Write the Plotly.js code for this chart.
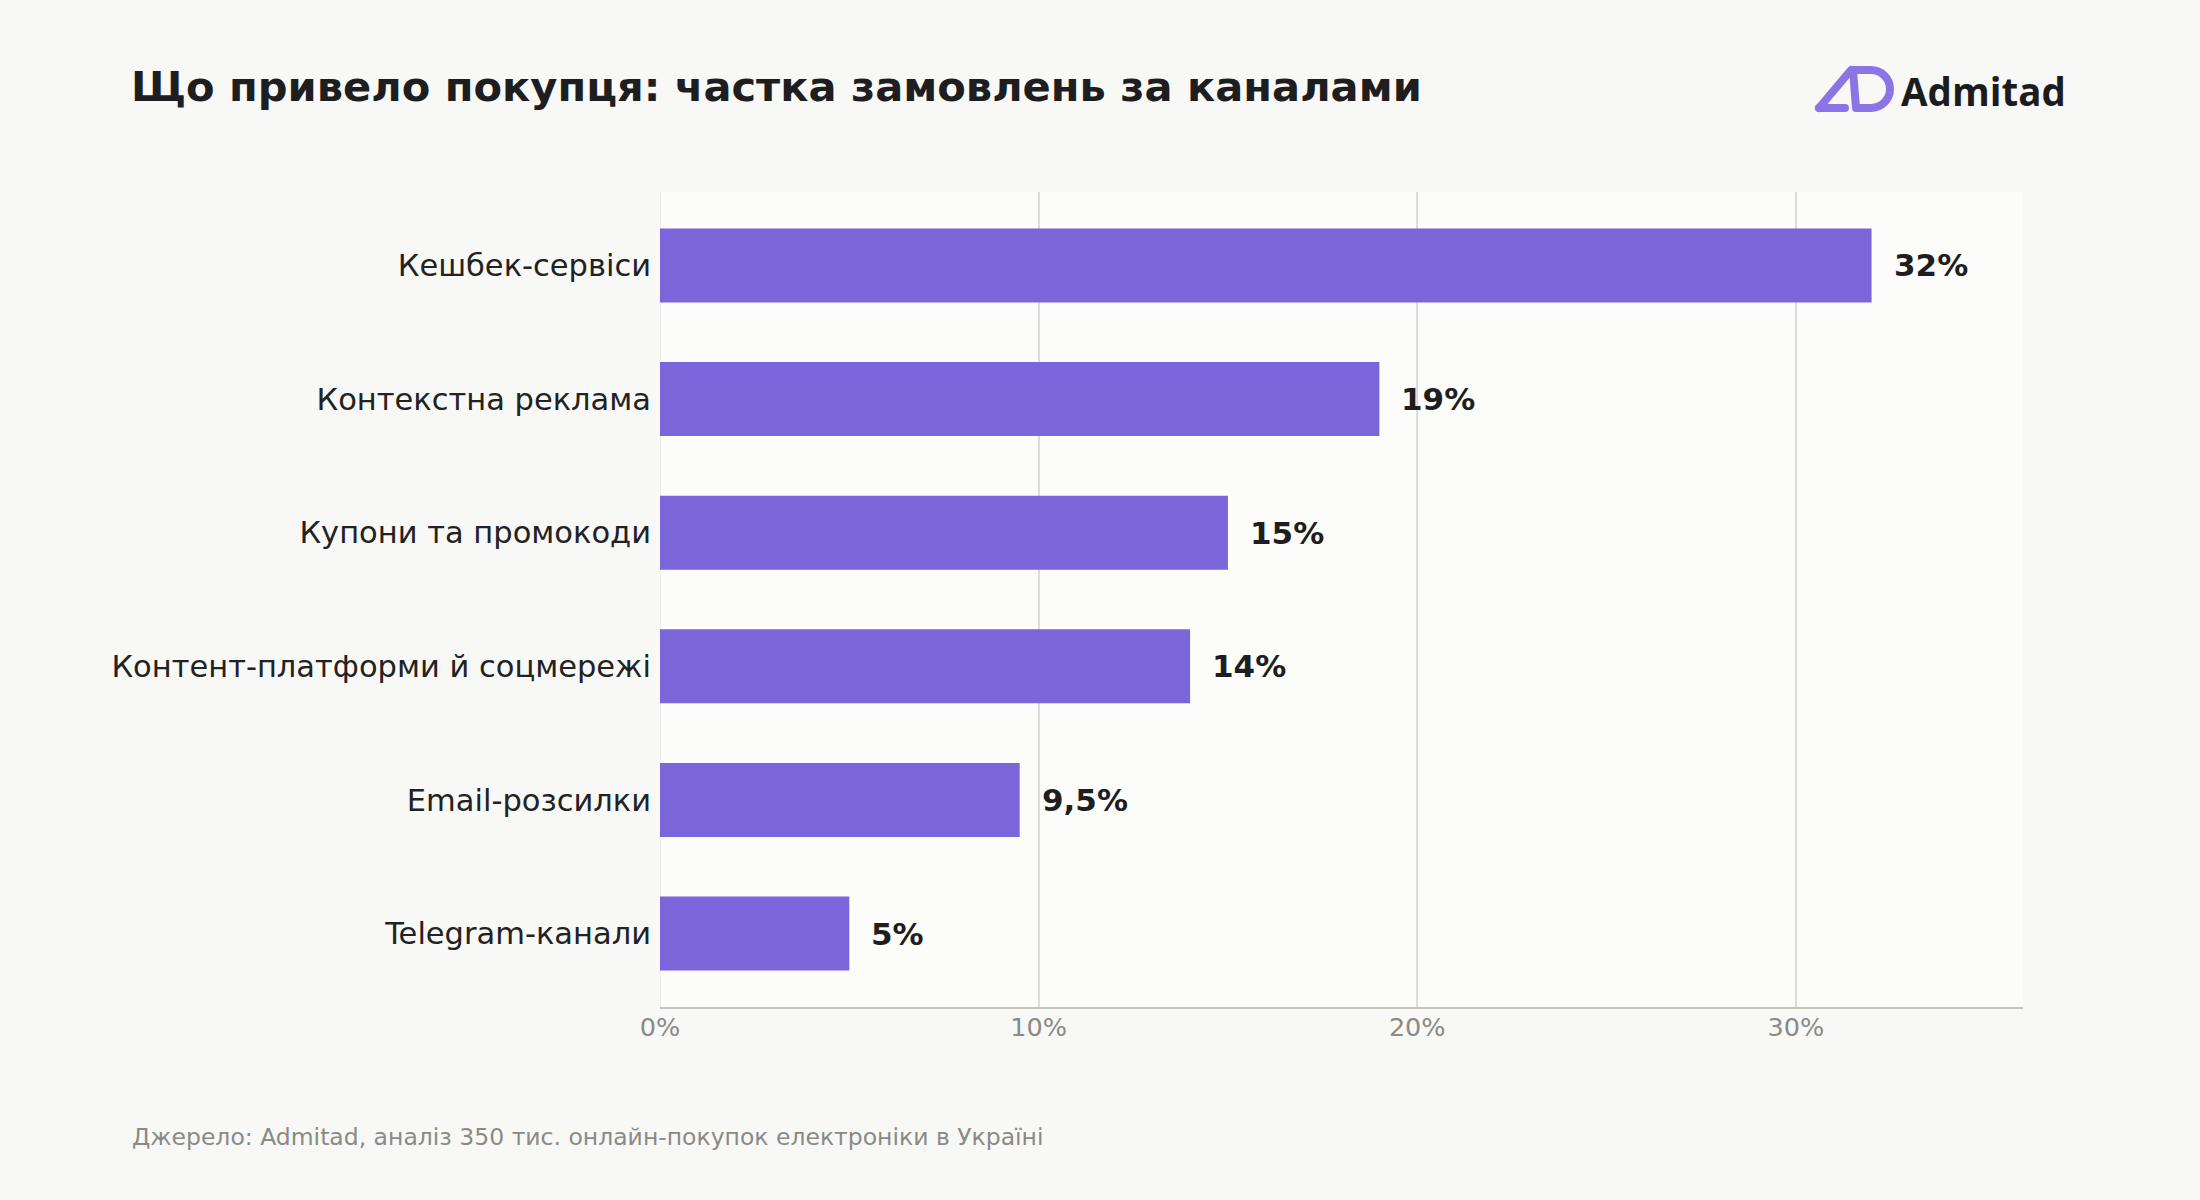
<!DOCTYPE html>
<html>
<head>
<meta charset="utf-8">
<script src="https://cdn.plot.ly/plotly-3.0.1.min.js"></script>
<style>
  body { margin: 0; background: #f8f8f6; }
  #wrap { position: relative; width: 2200px; height: 1200px; }
  #logo { position: absolute; left: 0; top: 0; pointer-events: none; }
</style>
</head>
<body>
<div id="wrap">
  <div id="chart"></div>
  <svg id="logo" width="2200" height="200">
    <g fill="none" stroke="#8b74e6" stroke-width="8" stroke-linecap="round" stroke-linejoin="round">
      <path d="M1819,108 L1851,70"/>
      <path d="M1819,108 L1845,108"/>
      <path d="M1853,70 L1856,108 L1871,108 A19,19 0 0 0 1871,70 Z"/>
    </g>
  </svg>
</div>
<script>
var channels = ['Кешбек-сервіси', 'Контекстна реклама', 'Купони та промокоди',
    'Контент-платформи й соцмережі', 'Email-розсилки', 'Telegram-канали'];
var shares = [32, 19, 15, 14, 9.5, 5];
var tickVals = [0, 10, 20, 30];
var tickText = ['0%', '10%', '20%', '30%'];

var barColor = '#7b65db';
var textDark = '#1e1e20';

var labels = shares.map(function(v) {
    return String(v).replace('.', ',') + '%';
});

var data = [{
    type: 'bar',
    orientation: 'h',
    x: shares,
    y: channels,
    marker: { color: barColor },
    hoverinfo: 'none',
    showlegend: false,
}];

var annotations = shares.map(function(v, i) {
    return {
        x: v, y: channels[i],
        xref: 'x', yref: 'y',
        text: labels[i],
        showarrow: false,
        xanchor: 'left',
        xshift: 20,
        font: { family: 'DejaVu Sans', size: 31, color: textDark, weight: 700 },
    };
});

annotations.push({
    xref: 'paper', yref: 'paper',
    x: -0.3888, y: -0.1595,
    xanchor: 'left', yanchor: 'middle',
    text: 'Джерело: Admitad, аналіз 350 тис. онлайн-покупок електроніки в Україні',
    showarrow: false,
    font: { family: 'DejaVu Sans', size: 23.5, color: '#8a8a86' },
});

annotations.push({
    xref: 'paper', yref: 'paper',
    x: 0.909, y: 1.124,
    xanchor: 'left', yanchor: 'middle',
    text: 'Admitad',
    showarrow: false,
    font: { family: 'Open Sans', size: 38.5, color: '#1c1c1e', weight: 700 },
});

var layout = {
    width: 2200,
    height: 1200,
    paper_bgcolor: '#f8f8f6',
    plot_bgcolor: '#fcfcfb',
    margin: { t: 192, b: 193, l: 660, r: 177 },
    font: { family: 'DejaVu Sans', color: textDark },
    title: {
        text: '<b>Що привело покупця: частка замовлень за каналами</b>',
        x: 0.0595, xref: 'container', xanchor: 'left',
        y: 0.928, yref: 'container', yanchor: 'middle',
        font: { family: 'DejaVu Sans', size: 41.6, color: textDark },
    },
    bargap: 0.446,
    xaxis: {
        range: [0, 36],
        tickmode: 'array',
        tickvals: tickVals,
        ticktext: tickText,
        ticks: '',
        ticklabelstandoff: -4,
        tickfont: { size: 25.5, color: '#8a8a86' },
        showgrid: true,
        gridcolor: '#dcdcd8',
        gridwidth: 2,
        zeroline: true,
        zerolinecolor: '#ececea',
        zerolinewidth: 1,
        showline: true,
        linecolor: '#c6c6bc',
        linewidth: 2,
        fixedrange: true,
    },
    yaxis: {
        type: 'category',
        range: [5.55, -0.55],
        ticks: '',
        ticklabelstandoff: 8,
        tickfont: { size: 30.5, color: '#222222' },
        showgrid: false,
        zeroline: false,
        showline: false,
        fixedrange: true,
    },
    annotations: annotations,
};

Plotly.newPlot('chart', data, layout, { displayModeBar: false });
</script>
</body>
</html>
